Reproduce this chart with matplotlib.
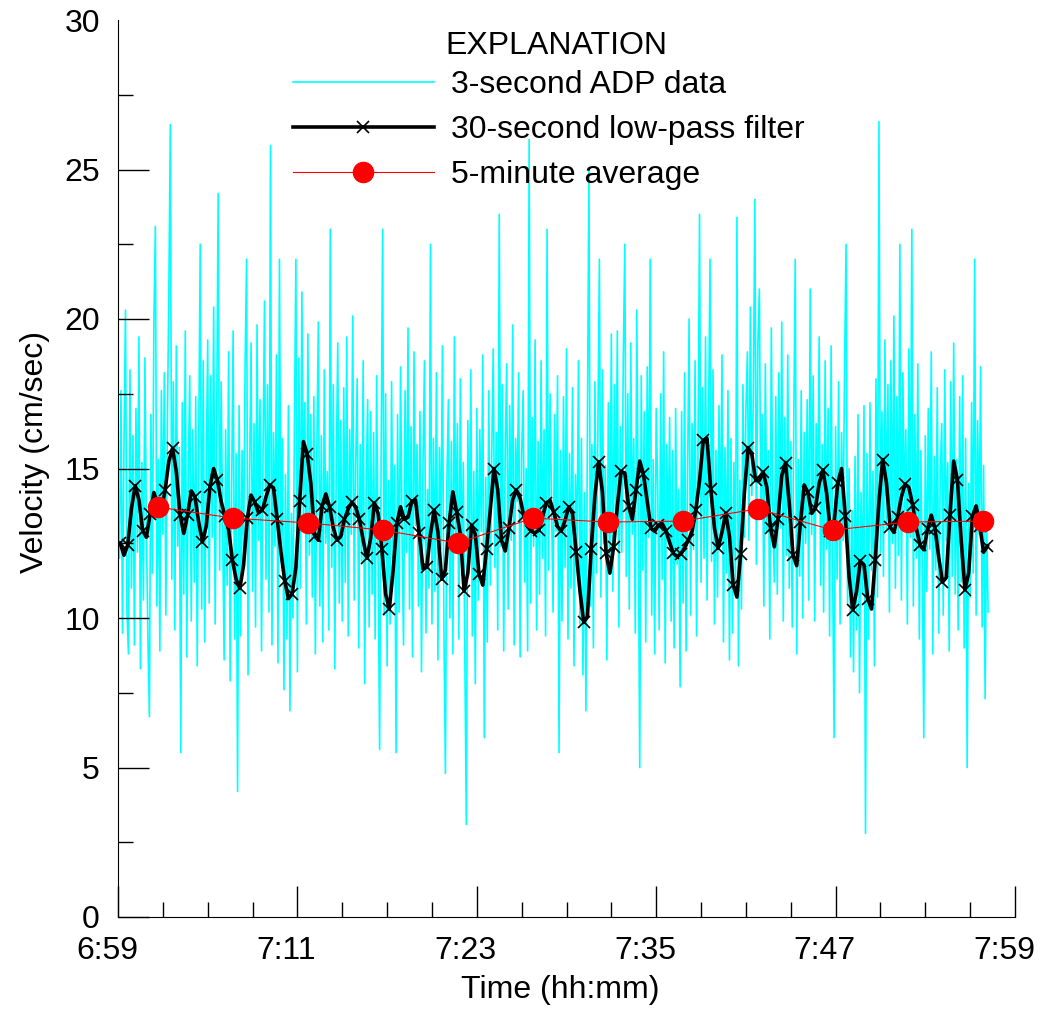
import matplotlib
matplotlib.use("Agg")
import matplotlib.pyplot as plt
import matplotlib.transforms as mtransforms
from matplotlib.ticker import MultipleLocator, FixedLocator
import numpy as np

plt.rcParams['font.family'] = ['Liberation Sans', 'DejaVu Sans']

# minutes after 6:59
tick_minutes = [0, 12, 24, 36, 48, 60]
tick_labels = ['6:59', '7:11', '7:23', '7:35', '7:47', '7:59']
y_ticks = [0, 5, 10, 15, 20, 25, 30]

# 3-second ADP data (read at 0.1-minute steps, starting at 0.1 min)
adp_start, adp_step = 0.1, 0.1
adp = [
    12.0, 17.6, 9.5, 15.8, 20.3, 10.2, 8.8, 18.3, 11.0, 16.1,
    9.1, 17.0, 12.2, 19.4, 8.3, 15.2, 10.6, 18.7, 12.9, 9.4,
    6.7, 16.8, 11.5, 19.9, 23.1, 10.4, 15.3, 8.9, 17.6, 12.8,
    18.2, 10.1, 16.4, 20.8, 26.5, 11.3, 17.9, 9.6, 19.1, 12.4,
    15.7, 5.5, 17.2, 10.8, 19.6, 8.7, 14.9, 18.1, 9.9, 16.3,
    11.2, 17.4, 8.4, 15.9, 22.5, 10.3, 18.6, 9.2, 14.8, 19.3,
    10.5, 18.1, 12.7, 20.4, 9.8, 16.6, 24.2, 11.6, 17.9, 13.0,
    8.6, 16.3, 11.1, 18.9, 7.9, 14.2, 19.6, 9.3, 15.5, 4.2,
    17.1, 9.4, 15.6, 12.0, 18.4, 22.0, 8.1, 14.7, 19.2, 10.9,
    16.5, 9.7, 19.8, 12.6, 17.3, 8.9, 15.4, 20.6, 11.3, 17.8,
    10.2, 25.8, 9.1, 16.2, 12.4, 18.8, 8.5, 22.0, 11.9, 16.0,
    7.6, 14.8, 9.3, 17.1, 6.9, 13.5, 10.0, 16.4, 22.0, 8.2,
    18.7, 11.0, 20.9, 13.4, 17.2, 9.8, 19.5, 12.1, 16.8, 10.7,
    17.4, 8.8, 15.6, 19.9, 10.4, 16.1, 9.2, 18.3, 12.5, 14.9,
    9.6, 23.0, 11.7, 17.8, 8.3, 15.1, 19.2, 10.5, 16.6, 9.9,
    17.7, 11.2, 19.4, 9.4, 16.3, 12.8, 20.1, 10.6, 15.2, 18.0,
    9.0, 15.8, 11.9, 18.6, 7.8, 14.4, 17.3, 9.7, 16.9, 10.8,
    16.2, 9.3, 18.1, 12.0, 5.6, 15.4, 23.0, 10.1, 17.5, 8.4,
    14.6, 9.8, 17.9, 11.5, 15.1, 5.5, 16.8, 10.2, 18.4, 12.7,
    9.1, 17.6, 12.2, 19.7, 10.3, 16.4, 8.7, 18.9, 13.1, 15.8,
    10.4, 16.9, 8.2, 15.1, 18.6, 9.5, 14.3, 11.0, 22.5, 9.8,
    16.0, 10.9, 18.2, 8.6, 15.7, 12.3, 19.1, 9.7, 4.8, 14.6,
    17.3, 10.0, 15.9, 8.8, 19.4, 12.2, 16.5, 9.3, 18.0, 11.4,
    15.2, 8.7, 3.1, 16.6, 11.8, 18.3, 9.4, 14.9, 7.8, 17.0,
    10.6, 16.3, 12.9, 18.8, 6.0, 14.7, 9.2, 17.6, 11.1, 15.5,
    19.0, 11.7, 16.2, 9.6, 23.5, 12.4, 17.8, 8.9, 15.6, 18.5,
    10.3, 17.1, 12.6, 19.8, 9.1, 16.0, 13.9, 18.2, 8.7, 15.4,
    17.6, 11.2, 15.0, 8.9, 26.0, 10.5, 16.7, 12.4, 19.3, 9.6,
    15.9, 10.8, 18.6, 12.0, 16.3, 9.4, 23.0, 11.6, 17.5, 13.8,
    10.2, 16.8, 12.9, 18.1, 5.5, 15.6, 9.9, 17.4, 11.7, 19.0,
    9.3, 15.5, 11.0, 17.7, 8.4, 14.8, 12.1, 18.6, 9.8, 16.0,
    8.1, 14.2, 6.9, 16.5, 25.0, 10.4, 15.8, 9.0, 17.9, 11.5,
    16.4, 22.0, 10.7, 18.3, 12.5, 15.1, 8.6, 17.2, 11.8, 19.5,
    10.9, 17.8, 13.1, 19.6, 9.7, 16.4, 12.2, 18.7, 22.5, 11.4,
    17.5, 10.3, 19.2, 12.8, 16.0, 9.5, 20.3, 13.4, 5.0, 18.1,
    11.6, 16.9, 9.2, 18.4, 12.7, 22.0, 10.1, 15.3, 8.8, 17.0,
    14.4, 9.6, 17.5, 11.3, 18.9, 8.5, 15.8, 12.6, 16.7, 9.9,
    15.6, 9.0, 17.0, 11.8, 14.3, 7.7, 16.9, 10.5, 18.2, 8.9,
    14.8, 20.0, 10.1, 16.5, 12.3, 18.6, 9.4, 15.9, 23.5, 11.2,
    17.7, 12.0, 19.4, 10.6, 16.2, 22.0, 11.9, 18.3, 9.8, 15.6,
    10.7, 17.1, 12.4, 18.8, 9.2, 15.7, 11.5, 17.6, 8.6, 16.0,
    9.5, 15.2, 11.0, 23.4, 8.4, 14.6, 10.3, 17.8, 12.7, 16.9,
    18.9, 12.6, 20.4, 14.1, 17.5, 24.0, 11.8, 19.2, 21.0, 13.3,
    16.8, 10.4, 18.5, 12.9, 15.6, 9.3, 19.7, 13.5, 11.2, 17.4,
    10.8, 18.2, 13.0, 19.9, 9.9, 16.7, 12.1, 18.8, 11.0, 15.9,
    9.7, 16.4, 22.0, 8.8, 15.3, 11.4, 17.6, 10.0, 16.2, 12.5,
    17.3, 10.6, 21.0, 12.8, 18.1, 9.9, 16.5, 13.7, 19.4, 11.1,
    15.8, 10.2, 18.6, 12.3, 17.0, 9.4, 19.1, 11.7, 6.0, 16.4,
    11.3, 17.9, 9.8, 16.2, 12.6, 18.4, 22.5, 10.5, 15.0, 8.7,
    13.6, 8.2, 15.4, 9.6, 16.8, 7.5, 14.2, 10.8, 17.1, 2.8,
    15.5, 9.3, 17.2, 11.6, 14.9, 8.4, 18.0, 10.7, 26.6, 12.2,
    16.9, 11.4, 19.3, 13.0, 17.8, 10.2, 18.6, 12.5, 20.1, 11.0,
    17.4, 12.1, 22.5, 10.6, 18.2, 13.6, 16.3, 9.8, 19.0, 12.7,
    23.0, 10.4, 16.8, 12.0, 18.5, 9.3, 15.6, 11.7, 6.0, 16.1,
    10.9, 17.0, 12.3, 18.9, 8.8, 15.4, 11.6, 17.7, 9.5, 14.8,
    16.5, 10.1, 18.3, 12.6, 15.2, 8.9, 17.9, 11.4, 19.2, 10.8,
    15.3, 9.6, 17.4, 11.2, 18.1, 9.0, 16.0, 5.0, 14.5, 10.7,
    17.2, 11.5, 22.0, 10.1, 16.6, 12.8, 18.4, 9.7, 15.1, 7.3,
    13.4, 10.2,
]

# 30-second low-pass filter (read at 0.25-minute steps, markers every 30 s)
lp_start, lp_step = 0.15, 0.25
lowpass = [
    12.5, 12.1, 12.44, 13.66, 14.43, 13.95, 12.92, 12.7, 13.49, 14.2,
    13.8, 13.57, 14.28, 15.24, 15.67, 14.9, 13.45, 12.83, 13.43, 14.25,
    14.05, 13.2, 12.55, 13.06, 14.39, 15.0, 14.6, 13.9, 13.4, 12.95,
    11.95, 11.3, 10.99, 11.77, 13.33, 14.11, 13.87, 13.52, 13.6, 14.05,
    14.45, 14.35, 13.3, 12.2, 11.25, 10.65, 10.8, 11.7, 13.9, 15.9,
    15.5, 14.5, 12.75, 12.6, 13.75, 14.15, 13.72, 13.02, 12.6, 12.73,
    13.3, 13.65, 13.87, 13.7, 13.3, 12.6, 12.0, 12.67, 13.85, 13.5,
    12.3, 10.8, 10.3, 11.58, 13.17, 13.72, 13.3, 13.37, 13.9, 13.95,
    12.83, 11.65, 11.7, 12.81, 13.6, 12.88, 11.3, 11.6, 13.19, 14.22,
    13.55, 12.8, 10.9, 11.5, 13.1, 12.8, 11.46, 11.1, 12.3, 13.6,
    15.0, 14.3, 12.6, 12.24, 13.0, 13.96, 14.28, 14.0, 13.4, 13.05,
    12.9, 12.85, 12.94, 13.4, 13.85, 13.93, 13.53, 13.06, 12.9, 13.26,
    13.72, 13.5, 12.2, 10.9, 9.85, 10.05, 12.3, 14.1, 15.23, 14.22,
    12.16, 11.5, 12.37, 13.74, 14.9, 14.85, 13.74, 13.3, 14.28, 15.25,
    14.8, 13.9, 13.0, 12.9, 13.1, 13.16, 12.92, 12.52, 12.16, 12.05,
    12.15, 12.35, 12.6, 12.9, 13.6, 14.6, 15.95, 16.0, 14.3, 13.0,
    12.33, 12.88, 13.5, 12.73, 11.1, 10.7, 12.13, 14.2, 15.7, 15.47,
    14.6, 14.6, 14.88, 14.37, 13.0, 12.38, 13.32, 14.77, 15.2, 13.83,
    12.1, 11.75, 13.2, 14.45, 14.2, 13.5, 13.67, 14.5, 14.95, 14.17,
    12.9, 13.2, 14.53, 15.0, 13.4, 11.4, 10.27, 10.89, 11.9, 11.78,
    10.64, 10.3, 11.94, 13.9, 15.3, 14.52, 13.04, 12.86, 13.38, 14.05,
    14.48, 14.37, 13.79, 13.0, 12.43, 12.28, 12.97, 13.44, 13.0, 12.03,
    11.2, 11.35, 13.45, 15.25, 14.62, 12.6, 10.95, 11.5, 13.4, 13.75,
    13.07, 12.2, 12.4,
]

# 5-minute averages
avg_minutes = [2.67, 7.69, 12.7, 17.72, 22.73, 27.75, 32.76, 37.78, 42.79, 47.81, 52.82, 57.84]
avg_values = [13.71, 13.34, 13.18, 12.94, 12.51, 13.34, 13.21, 13.24, 13.65, 12.94, 13.21, 13.24]

adp_t = adp_start + adp_step * np.arange(len(adp))
lp_t = lp_start + lp_step * np.arange(len(lowpass))

fig = plt.figure(figsize=(10.43, 10.09), dpi=100)
ax = fig.add_axes([118/1043, 1 - 917/1009, 897/1043, 897/1009])

l1, = ax.plot(adp_t, adp, color='#00ffff', lw=1.2, label='3-second ADP data', zorder=1)
l2, = ax.plot(lp_t, lowpass, color='black', lw=2.6, marker='x', markevery=2,
              markersize=8, markeredgewidth=1.2, label='30-second low-pass filter', zorder=2)
l3, = ax.plot(avg_minutes, avg_values, color='red', lw=0.8, marker='o', markersize=14.5,
              label='5-minute average', zorder=3)

ax.set_xlim(0, 60)
ax.set_ylim(0, 30)
for s in ['top', 'right']:
    ax.spines[s].set_visible(False)

ax.xaxis.set_major_locator(FixedLocator(tick_minutes))
ax.set_xticklabels(tick_labels)
ax.xaxis.set_minor_locator(MultipleLocator(3))
ax.yaxis.set_major_locator(FixedLocator(y_ticks))
ax.yaxis.set_minor_locator(MultipleLocator(2.5))
ax.tick_params(which='major', direction='in', length=22, width=1, labelsize=23)
ax.tick_params(which='minor', direction='in', length=11, width=1)
ax.tick_params(axis='x', which='major', pad=14)
ax.tick_params(axis='y', which='major', pad=13)
# no tick mark at the top of the y axis in the original
ax.yaxis.get_major_ticks(len(y_ticks))[-1].tick1line.set_visible(False)

shift = mtransforms.ScaledTranslation(-11/100, 0, fig.dpi_scale_trans)
for lab in ax.get_xticklabels():
    lab.set_transform(lab.get_transform() + shift)

ax.set_xlabel('Time (hh:mm)', fontsize=23)
ax.set_ylabel('Velocity (cm/sec)', fontsize=23)
ax.xaxis.label.set_va('center')
ax.yaxis.label.set_va('center')
ax.xaxis.set_label_coords((560 - 118)/897, (917 - 990)/897)
ax.yaxis.set_label_coords((35 - 118)/897, (917 - 452)/897)

ax.legend(handles=[l1, l2, l3], loc='upper left', bbox_to_anchor=(293/1043, 1 - 70/1009),
          bbox_transform=fig.transFigure, frameon=False, fontsize=23, handlelength=4.4,
          handletextpad=0.55, labelspacing=0.47, borderpad=0, borderaxespad=0, numpoints=1)
fig.text(556/1043, 1 - 46/1009, 'EXPLANATION', fontsize=23, ha='center', va='center')

fig.savefig('out.png', dpi=100)
